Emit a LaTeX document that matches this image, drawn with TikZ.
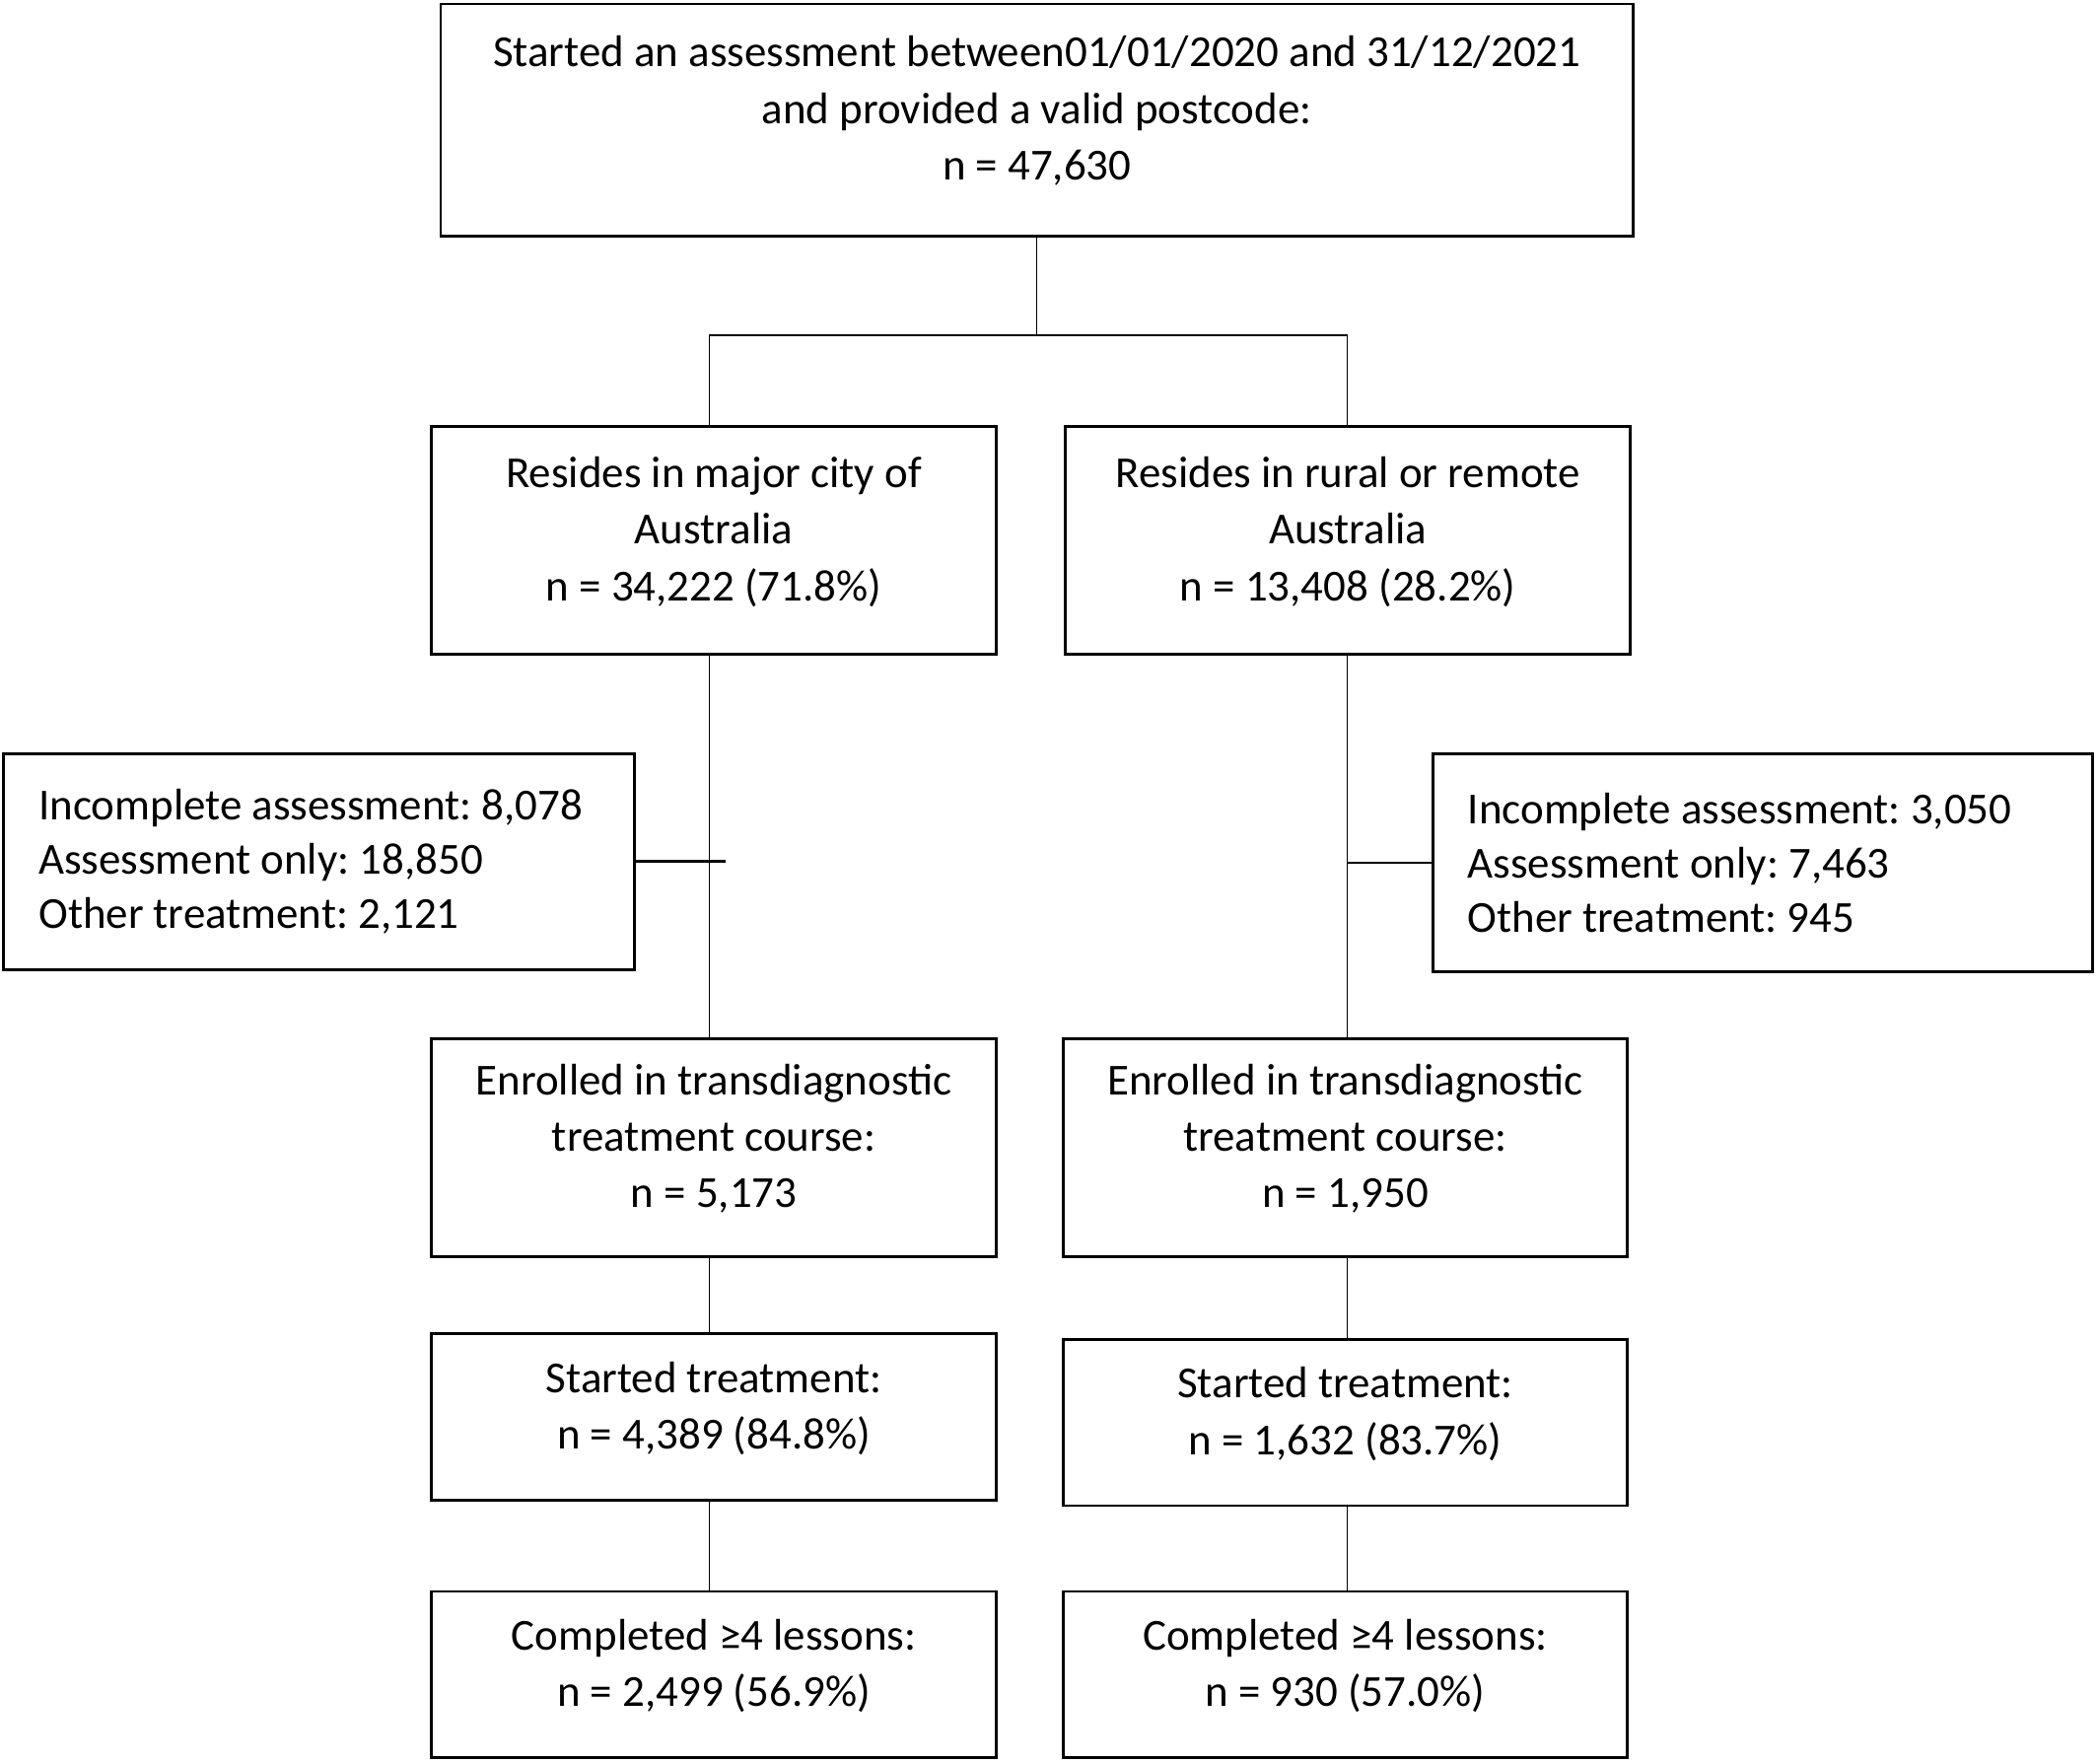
\documentclass[tikz,border=0pt]{standalone}
\usepackage{fontspec}
\setmainfont{Carlito}
\frenchspacing
\tikzstyle{box}=[draw,line width=0.6pt,inner sep=0pt,align=center,text depth=5pt,font=\fontsize{9.4}{12}\selectfont]
\tikzstyle{side box}=[box,align=flush left,text depth=,inner xsep=0.26cm,font=\fontsize{9.4}{11.5}\selectfont]
\tikzstyle{link}=[draw,line width=0.3pt]
\tikzstyle{bar link}=[draw,line width=0.6pt]
\begin{document}
\begin{tikzpicture}[x=0.01cm,y=-0.01cm]
    \useasboundingbox (0,0) rectangle (1565,1315);

    % top box
    \node[box,minimum width=8.89cm,minimum height=1.73cm] (start) at (773.5,89.5)
        {Started an assessment between01/01/2020 and 31/12/2021\\and provided a valid postcode:\\n = 47,630};

    % region boxes
    \node[box,minimum width=4.21cm,minimum height=1.70cm] (city) at (532.5,403)
        {Resides in major city of\\Australia\\n = 34,222 (71.8\%)};
    \node[box,minimum width=4.21cm,minimum height=1.70cm] (rural) at (1005.5,403)
        {Resides in rural or remote\\Australia\\n = 13,408 (28.2\%)};

    % excluded boxes
    \node[side box,text width=4.18cm,minimum height=1.61cm] (exclcity) at (238,642.5)
        {Incomplete assessment: 8,078\\Assessment only: 18,850\\Other treatment: 2,121};
    \node[side box,text width=4.40cm,minimum height=1.63cm] (exclrural) at (1315,643.5)
        {Incomplete assessment: 3,050\\Assessment only: 7,463\\Other treatment: 945};

    % treatment boxes
    \node[box,minimum width=4.21cm,minimum height=1.62cm] (enrcity) at (532.5,856)
        {Enrolled in transdiagnostic\\treatment course:\\n = 5,173};
    \node[box,minimum width=4.21cm,minimum height=1.62cm] (enrrural) at (1003.5,856)
        {Enrolled in transdiagnostic\\treatment course:\\n = 1,950};
    \node[box,minimum width=4.21cm,minimum height=1.24cm] (stacity) at (532.5,1057)
        {Started treatment:\\n = 4,389 (84.8\%)};
    \node[box,minimum width=4.21cm,minimum height=1.24cm] (starural) at (1003.5,1061)
        {Started treatment:\\n = 1,632 (83.7\%)};
    \node[box,minimum width=4.21cm,minimum height=1.24cm] (comcity) at (532.5,1249)
        {Completed ≥4 lessons:\\n = 2,499 (56.9\%)};
    \node[box,minimum width=4.21cm,minimum height=1.24cm] (comrural) at (1003.5,1249)
        {Completed ≥4 lessons:\\n = 930 (57.0\%)};

    % split
    \coordinate (split) at (773.5,250);
    \coordinate (barcity) at (529,250);
    \coordinate (barrural) at (1005,250);
    \coordinate (stubcity) at (541,642.5);
    \path[link] (start.south) -- (split);
    \path[bar link] (barcity) -- (barrural);
    \path[link] (barcity) -- (barcity |- city.north);
    \path[link] (barrural) -- (barrural |- rural.north);

    % side branches
    \path[bar link] (exclcity.east) -- (stubcity);
    \path[bar link] (exclrural.west) -- (exclrural.west -| barrural);

    \foreach \source/\dest/\col in {city/enrcity/barcity, enrcity/stacity/barcity,
        stacity/comcity/barcity, rural/enrrural/barrural,
        enrrural/starural/barrural, starural/comrural/barrural}
    \path[link] (\col |- \source.south) -- (\col |- \dest.north);

\end{tikzpicture}
\end{document}
